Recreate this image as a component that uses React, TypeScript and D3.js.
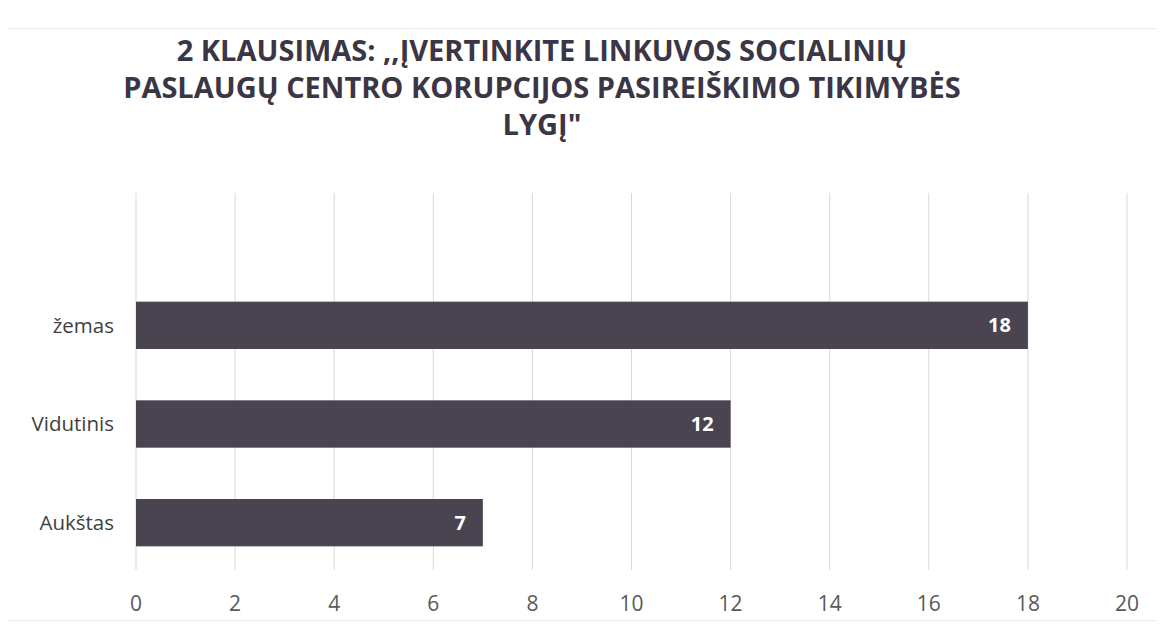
import * as d3 from "d3";
import React, { useEffect, useRef } from "react";

const titleLines = [
    "2 KLAUSIMAS: ,,ĮVERTINKITE LINKUVOS SOCIALINIŲ",
    "PASLAUGŲ CENTRO KORUPCIJOS PASIREIŠKIMO TIKIMYBĖS",
    'LYGĮ"',
];
const categories = ["žemas", "Vidutinis", "Aukštas"];
const values = [18, 12, 7];
const xTicks = [0, 2, 4, 6, 8, 10, 12, 14, 16, 18, 20];

export default function App() {
    const ref = useRef<HTMLDivElement>(null);

    function drawChart() {
        d3.select(ref.current).select("svg").remove();
        const svg = d3
            .select(ref.current)
            .append("svg")
            .attr("width", 1164)
            .attr("height", 630)
            .style("display", "block")
            .style("background", "#fff");

        const font = "'Open Sans', Lato, sans-serif";

        // chart border
        svg.append("rect")
            .attr("x", 5.5)
            .attr("y", 28.5)
            .attr("width", 1156)
            .attr("height", 592)
            .attr("fill", "none")
            .attr("stroke", "#d4d4d4")
            .attr("stroke-dasharray", "1,1");

        const xScale = d3.scaleLinear().domain([0, 20]).range([136, 1127]);
        const yScale = d3
            .scaleBand()
            .domain(categories)
            .range([276, 572])
            .paddingInner(0.52)
            .paddingOuter(0.26);

        // title
        svg.append("text")
            .attr("x", 542)
            .attr("y", 61)
            .attr("text-anchor", "middle")
            .attr("fill", "#3b3645")
            .style("font-family", font)
            .style("font-weight", "bold")
            .style("font-size", "29px")
            .selectAll("tspan")
            .data(titleLines)
            .enter()
            .append("tspan")
            .attr("x", 542)
            .attr("dy", (d, i) => (i === 0 ? 0 : 37))
            .text((d) => d);

        // grid lines
        svg.append("g")
            .selectAll("line")
            .data(xTicks)
            .enter()
            .append("line")
            .attr("x1", (d) => xScale(d))
            .attr("x2", (d) => xScale(d))
            .attr("y1", 193)
            .attr("y2", 570)
            .attr("stroke", "#d9d9d9")
            .attr("stroke-width", 1);

        // tick labels
        svg.append("g")
            .selectAll("text")
            .data(xTicks)
            .enter()
            .append("text")
            .attr("x", (d) => xScale(d))
            .attr("y", 611)
            .attr("text-anchor", "middle")
            .attr("fill", "#595959")
            .style("font-family", font)
            .style("font-size", "21px")
            .text((d) => d);

        // bars
        svg.append("g")
            .selectAll("rect")
            .data(values)
            .enter()
            .append("rect")
            .attr("x", xScale(0))
            .attr("y", (d, i) => yScale(categories[i]))
            .attr("width", (d) => xScale(d) - xScale(0))
            .attr("height", yScale.bandwidth())
            .attr("fill", "#4a4450");

        // category labels
        svg.append("g")
            .selectAll("text")
            .data(categories)
            .enter()
            .append("text")
            .attr("x", 114)
            .attr("y", (d) => yScale(d) + yScale.bandwidth() / 2)
            .attr("dy", "0.35em")
            .attr("text-anchor", "end")
            .attr("fill", "#404040")
            .style("font-family", font)
            .style("font-size", "20.5px")
            .text((d) => d);

        // value labels
        svg.append("g")
            .selectAll("text")
            .data(values)
            .enter()
            .append("text")
            .attr("x", (d) => xScale(d) - 17)
            .attr("y", (d, i) => yScale(categories[i]) + yScale.bandwidth() / 2)
            .attr("dy", "0.35em")
            .attr("text-anchor", "end")
            .attr("fill", "#ffffff")
            .style("font-family", font)
            .style("font-weight", "bold")
            .style("font-size", "20px")
            .text((d) => d);
    }

    useEffect(() => {
        drawChart();
    }, []);

    return <div ref={ref} style={{ margin: -8 }}></div>;
}
